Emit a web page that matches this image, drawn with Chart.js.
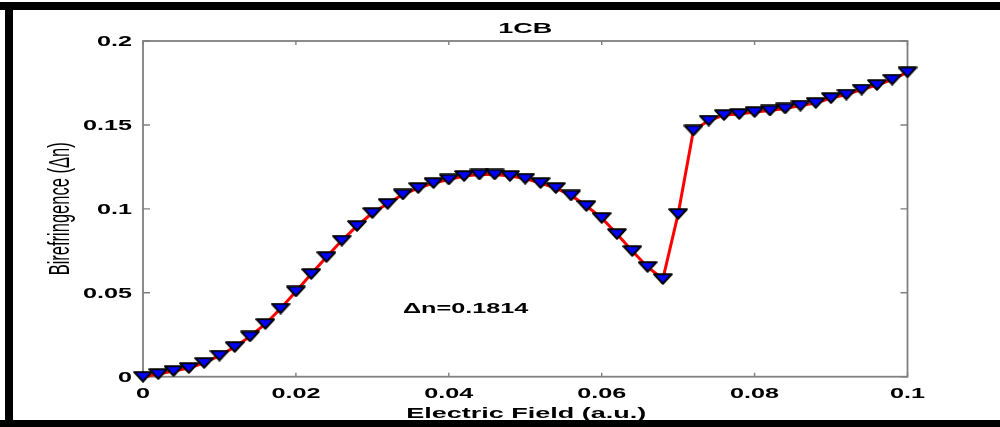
<!DOCTYPE html>
<html>
<head>
<meta charset="utf-8">
<script src="https://cdn.jsdelivr.net/npm/chart.js@4.4.0/dist/chart.umd.min.js"></script>
<style>
  html, body { margin: 0; padding: 0; background: #fff; }
  #wrap { position: relative; width: 1000px; height: 427px; overflow: hidden; }
  .bar { position: absolute; background: #000; }
</style>
</head>
<body>
<div id="wrap">
  <canvas id="myChart" width="1000" height="427"></canvas>
  <div class="bar" style="left:0;top:2px;width:1000px;height:8px"></div>
  <div class="bar" style="left:5px;top:2px;width:8px;height:425px"></div>
  <div class="bar" style="left:0;top:420px;width:1000px;height:7px"></div>
</div>
<script>
// electric field steps and measured birefringence
let fields = [0, 0.002, 0.004, 0.006, 0.008, 0.010, 0.012, 0.014, 0.016, 0.018,
  0.020, 0.022, 0.024, 0.026, 0.028, 0.030, 0.032, 0.034, 0.036, 0.038,
  0.040, 0.042, 0.044, 0.046, 0.048, 0.050, 0.052, 0.054, 0.056, 0.058,
  0.060, 0.062, 0.064, 0.066, 0.068, 0.070, 0.072, 0.074, 0.076, 0.078,
  0.080, 0.082, 0.084, 0.086, 0.088, 0.090, 0.092, 0.094, 0.096, 0.098, 0.100];
let biref = [0, 0.0016, 0.0034, 0.0052, 0.0082, 0.0126, 0.0177, 0.0240, 0.0314, 0.0406,
  0.0508, 0.0612, 0.0713, 0.0811, 0.0898, 0.0975, 0.1030, 0.1086, 0.1124, 0.1154,
  0.1175, 0.1196, 0.1205, 0.1205, 0.1196, 0.1180, 0.1154, 0.1124, 0.1080, 0.1017,
  0.0946, 0.0850, 0.0749, 0.0654, 0.0582, 0.0970, 0.1467, 0.1526, 0.1559, 0.1565,
  0.1577, 0.1586, 0.1598, 0.1615, 0.1631, 0.1660, 0.1681, 0.1711, 0.1738, 0.1770, 0.1814];
let xTicks = [0, 0.02, 0.04, 0.06, 0.08, 0.1];
let xTickLabels = ["0", "0.02", "0.04", "0.06", "0.08", "0.1"];
let yTicks = [0, 0.05, 0.1, 0.15, 0.2];
let yTickLabels = ["0", "0.05", "0.1", "0.15", "0.2"];
let titleText = "1CB";
let xTitle = "Electric Field (a.u.)";
let yTitle = "Birefringence (\u0394n)";
let noteText = "\u0394n=0.1814";
let notePos = [0.034, 0.040];

const SX = 1.8; // text is drawn wide
const FONT = "'Liberation Sans', Arial, sans-serif";

// down-pointing triangle marker
function makeMarker() {
  let c = document.createElement("canvas");
  c.width = 20; c.height = 12;
  let g = c.getContext("2d");
  g.beginPath();
  g.moveTo(1.2, 1.2); g.lineTo(18.8, 1.2); g.lineTo(10, 10.8); g.closePath();
  g.fillStyle = "#0000ff";
  g.fill();
  g.lineWidth = 2;
  g.strokeStyle = "#000";
  g.lineJoin = "round";
  g.stroke();
  return c;
}

function wideText(ctx, text, x, y, align, base) {
  ctx.save();
  ctx.translate(x, y);
  ctx.scale(SX, 1);
  ctx.textAlign = align;
  ctx.textBaseline = base;
  ctx.fillText(text, 0, 0);
  ctx.restore();
}

const frame = {
  id: "frame",
  beforeDatasetsDraw(chart) {
    let ctx = chart.ctx;
    let a = chart.chartArea;
    let xs = chart.scales.x, ys = chart.scales.y;
    ctx.save();
    // box and inward ticks
    ctx.strokeStyle = "#808080";
    ctx.lineWidth = 1.8;
    ctx.strokeRect(a.left, a.top, a.right - a.left, a.bottom - a.top);
    ctx.lineWidth = 1.4;
    ctx.beginPath();
    xTicks.forEach(v => {
      let px = xs.getPixelForValue(v);
      ctx.moveTo(px, a.bottom); ctx.lineTo(px, a.bottom - 4);
      ctx.moveTo(px, a.top); ctx.lineTo(px, a.top + 4);
    });
    yTicks.forEach(v => {
      let py = ys.getPixelForValue(v);
      ctx.moveTo(a.left, py); ctx.lineTo(a.left + 7, py);
      ctx.moveTo(a.right, py); ctx.lineTo(a.right - 7, py);
    });
    ctx.stroke();

    ctx.fillStyle = "#000";
    ctx.font = "bold 14px " + FONT;
    yTicks.forEach((v, i) => {
      wideText(ctx, yTickLabels[i], a.left - 11, ys.getPixelForValue(v) + 1, "right", "middle");
    });
    xTicks.forEach((v, i) => {
      wideText(ctx, xTickLabels[i], xs.getPixelForValue(v), a.bottom + 17, "center", "middle");
    });
    wideText(ctx, noteText, xs.getPixelForValue(notePos[0]), ys.getPixelForValue(notePos[1]), "left", "middle");

    ctx.font = "bold 15px " + FONT;
    wideText(ctx, titleText, (a.left + a.right) / 2, 33, "center", "alphabetic");
    wideText(ctx, xTitle, (a.left + a.right) / 2 + 1, 418, "center", "alphabetic");

    // rotated y title, stretched across its glyph height
    ctx.font = "16.5px " + FONT;
    ctx.translate(61, (a.top + a.bottom) / 2);
    ctx.rotate(-Math.PI / 2);
    ctx.scale(1, SX);
    ctx.textAlign = "center";
    ctx.textBaseline = "middle";
    ctx.fillText(yTitle, 0, 0);
    ctx.restore();
  }
};

let points = fields.map((f, i) => ({ x: f, y: biref[i] }));

new Chart("myChart", {
  type: "line",
  data: {
    datasets: [{
      data: points,
      borderColor: "#ff0000",
      borderWidth: 3,
      pointStyle: makeMarker(),
      pointRadius: 10,
      fill: false,
      tension: 0,
      clip: false
    }]
  },
  options: {
    responsive: false,
    animation: false,
    devicePixelRatio: 1,
    layout: { padding: { left: 143, right: 92.5, top: 41, bottom: 50.3 } },
    plugins: { legend: { display: false }, tooltip: { enabled: false } },
    scales: {
      x: { type: "linear", min: 0, max: 0.1, display: false },
      y: { type: "linear", min: 0, max: 0.2, display: false }
    }
  },
  plugins: [frame]
});
</script>
</body>
</html>
